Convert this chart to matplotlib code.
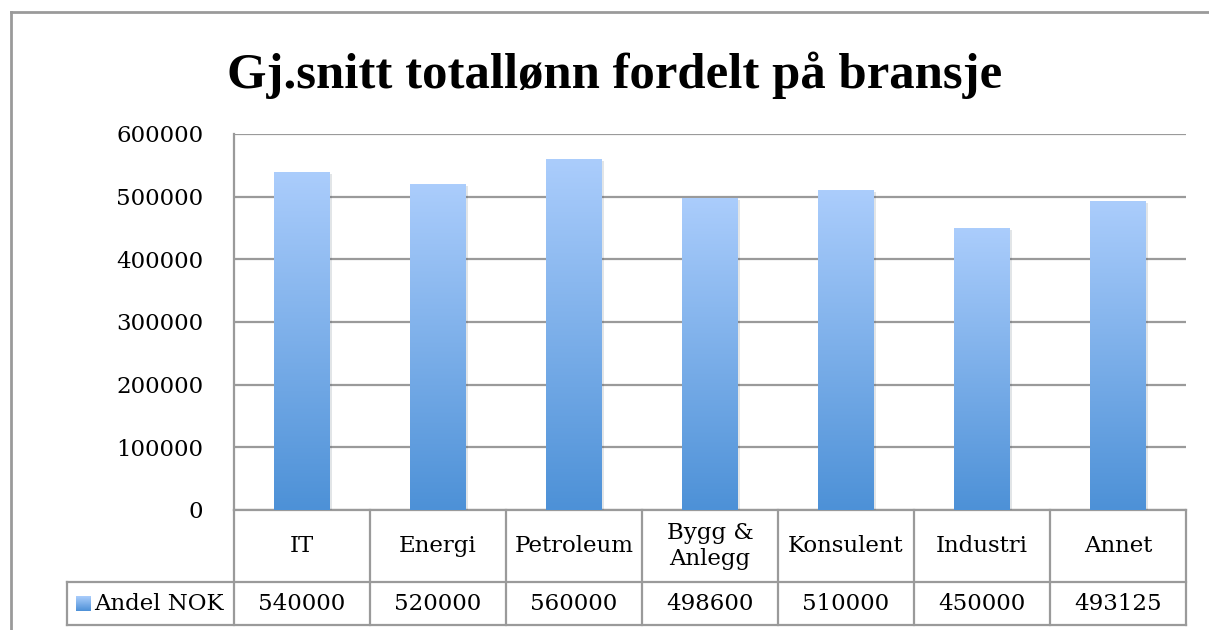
import numpy as np
import matplotlib
matplotlib.use('Agg')
import matplotlib.pyplot as plt
import matplotlib.patheffects as pe
from matplotlib.colors import LinearSegmentedColormap
from matplotlib.transforms import blended_transform_factory
from matplotlib.lines import Line2D

# data
categories = ['IT', 'Energi', 'Petroleum', 'Bygg &\nAnlegg', 'Konsulent', 'Industri', 'Annet']
values = [540000, 520000, 560000, 498600, 510000, 450000, 493125]
series_name = 'Andel NOK'
title = 'Gj.snitt totallønn fordelt på bransje'
yticks = [0, 100000, 200000, 300000, 400000, 500000, 600000]

plt.rcParams['font.family'] = ['DejaVu Serif']

W, H = 1209, 630
fig = plt.figure(figsize=(W / 100, H / 100), dpi=100)

# plot area in pixels
L, R, T, B = 234, 1186, 134, 510
ax = fig.add_axes([L / W, 1 - B / H, (R - L) / W, (B - T) / H])

grid_c = '#9a9a9a'
cmap = LinearSegmentedColormap.from_list('blues', ['#4d91d7', '#abcdfc'])
grad = np.linspace(0, 1, 256).reshape(-1, 1)

x = np.arange(len(categories))
bars = ax.bar(x, values, width=0.41, color='#4d91d7', zorder=3,
              path_effects=[pe.SimplePatchShadow(offset=(1.5, -1.5), alpha=0.12), pe.Normal()])
for b in bars:
    im = ax.imshow(grad, extent=[b.get_x(), b.get_x() + b.get_width(), 0, b.get_height()],
                   origin='lower', aspect='auto', cmap=cmap, zorder=4)
    im.set_clip_path(b)

ax.set_xlim(-0.5, len(categories) - 0.5)
ax.set_ylim(0, 600000)
ax.set_yticks(yticks)
ax.set_yticklabels([str(v) for v in yticks], fontsize=16.5)
ax.tick_params(axis='y', length=0, pad=22)
ax.set_xticks([])
ax.yaxis.grid(True, color=grid_c, linewidth=1.6, zorder=1)
ax.set_axisbelow(True)
for s in ['top', 'right', 'bottom']:
    ax.spines[s].set_visible(False)
ax.spines['left'].set_color(grid_c)
ax.spines['left'].set_linewidth(1.6)

# data table below the plot
tr = blended_transform_factory(ax.transData, ax.transAxes)
ph = B - T
row1 = -(582 - B) / ph
row2 = -(625 - B) / ph
left_x = -0.5 - (L - 67) / ((R - L) / len(categories))
tl = dict(color=grid_c, linewidth=1.6, transform=tr, clip_on=False)
for i in range(len(categories) + 1):
    ax.add_line(Line2D([i - 0.5, i - 0.5], [0, row2], **tl))
ax.add_line(Line2D([left_x, len(categories) - 0.5], [row1, row1], **tl))
ax.add_line(Line2D([left_x, len(categories) - 0.5], [row2, row2], **tl))
ax.add_line(Line2D([left_x, left_x], [row1, row2], **tl))
ax.add_line(Line2D([-0.5, len(categories) - 0.5], [0, 0], **tl))

for i, (c, v) in enumerate(zip(categories, values)):
    ax.text(i, row1 / 2, c, ha='center', va='center', fontsize=16.5,
            transform=tr, linespacing=1.25)
    ax.text(i, (row1 + row2) / 2, str(v), ha='center', va='center', fontsize=16.5,
            transform=tr)
ax.text(left_x + 0.2, (row1 + row2) / 2, series_name, ha='left', va='center',
        fontsize=16.5, transform=tr)

# legend key
kax = fig.add_axes([76 / W, 1 - 611 / H, 15 / W, 15 / H])
kax.imshow(grad, origin='lower', aspect='auto', cmap=cmap)
kax.axis('off')

# chart frame
fig.add_artist(Line2D([11 / W, 1], [1 - 12 / H, 1 - 12 / H], color=grid_c,
                      linewidth=2, transform=fig.transFigure))
fig.add_artist(Line2D([11 / W, 11 / W], [0, 1 - 12 / H], color=grid_c,
                      linewidth=2, transform=fig.transFigure))

fig.text(615 / W, 1 - 75 / H, title, ha='center', va='center', fontsize=36.5,
         fontweight='bold', family='Liberation Serif')

fig.savefig('out.png', dpi=100)
